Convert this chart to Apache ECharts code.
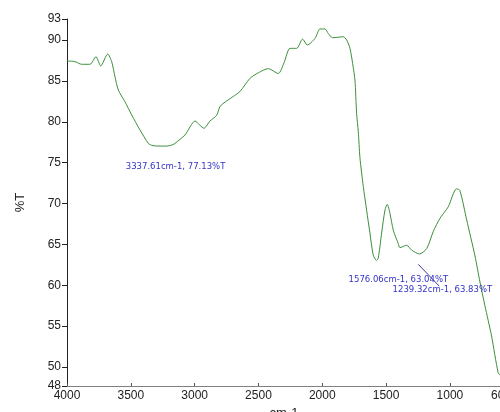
<!DOCTYPE html>
<html>
<head>
<meta charset="utf-8">
<script src="https://cdn.jsdelivr.net/npm/echarts@6/dist/echarts.min.js"></script>
<style>
  html, body { margin: 0; padding: 0; background: #fff; }
  #chart { width: 500px; height: 412px; }
</style>
</head>
<body>
<div id="chart"></div>
<script>
// FTIR transmittance spectrum: wavenumber (cm-1) vs %T
const wavenumbers = [
  4000, 3990, 3937, 3885, 3820, 3773, 3736, 3681, 3650, 3624, 3598, 3546, 3493,
  3428, 3363, 3337.61, 3297, 3219, 3170, 3154, 3076, 2997, 2960, 2927, 2880,
  2827, 2800, 2700, 2645, 2567, 2500, 2423, 2345, 2300, 2253, 2201, 2154, 2118,
  2057, 2018, 1979, 1953, 1919, 1836, 1809, 1783, 1757, 1744, 1731, 1718, 1705,
  1679, 1653, 1627, 1601, 1576.06, 1562, 1535, 1509, 1491, 1470, 1444, 1405,
  1392, 1339, 1300, 1239.32, 1182, 1130, 1078, 1040, 1013, 948, 922, 869, 804,
  765, 726, 674, 622, 600
];
const transmittance = [
  87.45, 87.43, 87.35, 87.03, 87.03, 87.96, 86.82, 88.29, 87.35, 85.5, 83.88, 82.45, 80.83,
  78.99, 77.36, 77.13, 77.03, 77.03, 77.2, 77.36, 78.38, 80.09, 79.6, 79.2, 80.09,
  80.8, 81.9, 83.07, 83.7, 85.3, 86.0, 86.5, 85.9, 87.2, 88.98, 88.98, 90.12, 89.39,
  90.2, 91.35, 91.35, 90.8, 90.28, 90.4, 90.0, 88.98, 86.6, 85.1, 81.0, 78.8, 75.6,
  72.1, 69.2, 66.4, 63.7, 63.04, 63.3, 66.4, 69.2, 69.9, 68.8, 66.75, 65.1,
  64.6, 64.9, 64.3, 63.83, 64.5, 66.6, 68.2, 69.0, 69.6, 71.8, 71.6, 68.0, 63.6,
  60.4, 57.5, 53.8, 49.3, 48.9
];

// Tick positions along each axis
const xTicks = [4000, 3500, 3000, 2500, 2000, 1500, 1000, 600];
const yTicks = [47.68, 50, 55, 60, 65, 70, 75, 80, 85, 90, 92.57];

// Peak annotations [wavenumber, %T, label offset x, label offset y]
const peaks = [
  [3337.61, 77.13, 24, 22],
  [1576.06, 63.04, 22, 19],
  [1239.32, 63.83, 23, 36]
];
// Leader line for the 1239 peak label
const leader = [[1248, 62.56], [1084, 59.9]];

const chart = echarts.init(document.getElementById('chart'), null, { renderer: 'canvas' });

const labelFont = { fontFamily: 'Liberation Sans, Arial, sans-serif', fontSize: 12, color: '#222' };

chart.setOption({
  animation: false,
  backgroundColor: '#ffffff',
  grid: { left: 67, top: 19, width: 434, height: 367, containLabel: false, outerBoundsMode: 'none' },
  xAxis: {
    type: 'value',
    inverse: true,
    min: 600,
    max: 4000,
    name: 'cm-1',
    nameLocation: 'middle',
    nameGap: 16,
    nameTextStyle: { fontFamily: 'Liberation Sans, Arial, sans-serif', fontSize: 13, color: '#222', verticalAlign: 'top' },
    splitLine: { show: false },
    axisLine: { onZero: false, lineStyle: { color: '#808080', width: 1 } },
    axisTick: { inside: true, length: 3, customValues: xTicks, lineStyle: { color: '#555' } },
    axisLabel: Object.assign({
      customValues: xTicks,
      margin: 4,
      showMinLabel: true,
      showMaxLabel: true,
      formatter: v => String(v)
    }, labelFont)
  },
  yAxis: {
    type: 'value',
    min: 47.68,
    max: 92.57,
    name: '%T',
    nameLocation: 'middle',
    nameGap: 40,
    nameRotate: 90,
    nameTextStyle: { fontFamily: 'Liberation Sans, Arial, sans-serif', fontSize: 13, color: '#222' },
    splitLine: { show: false },
    axisLine: { onZero: false, lineStyle: { color: '#222', width: 1 } },
    axisTick: { length: 5, customValues: yTicks, lineStyle: { color: '#222' } },
    axisLabel: Object.assign({
      customValues: yTicks,
      margin: 6,
      showMinLabel: true,
      showMaxLabel: true,
      formatter: v => String(Math.round(v))
    }, labelFont)
  },
  series: [{
    type: 'line',
    data: wavenumbers.map((w, i) => [w, transmittance[i]]),
    showSymbol: false,
    smooth: 0.25,
    lineStyle: { color: '#3c8f3c', width: 1 },
    markPoint: {
      symbol: 'circle',
      symbolSize: 0,
      silent: true,
      data: peaks.map(p => ({
        coord: [p[0], p[1]],
        label: {
          show: true,
          position: 'inside',
          offset: [p[2], p[3]],
          align: 'center',
          verticalAlign: 'middle',
          formatter: p[0].toFixed(2) + 'cm-1, ' + p[1].toFixed(2) + '%T',
          fontFamily: 'DejaVu Sans, sans-serif',
          fontSize: 8.5,
          color: '#3333c8'
        }
      }))
    },
    markLine: {
      silent: true,
      symbol: ['none', 'none'],
      label: { show: false },
      lineStyle: { color: '#3a3aa0', width: 1, type: 'solid' },
      data: [[{ coord: leader[0] }, { coord: leader[1] }]]
    }
  }]
});
</script>
</body>
</html>
